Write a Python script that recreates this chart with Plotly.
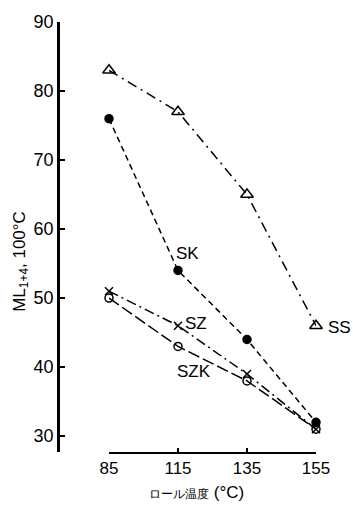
import plotly.graph_objects as go

temps = ["85", "115", "135", "155"]
ss = [83, 77, 65, 46]
sk = [76, 54, 44, 32]
sz = [51, 46, 39, 31]
szk = [50, 43, 38, 31]
y_ticks = [30, 40, 50, 60, 70, 80, 90]

FONT = "Liberation Sans"
fig = go.Figure()

def add(y, name, dash, symbol, size, width=1.5):
    fig.add_trace(go.Scatter(
        x=temps, y=y, name=name, mode="lines+markers", cliponaxis=False,
        line=dict(color="black", width=width, dash=dash),
        marker=dict(symbol=symbol, size=size, color="black",
                    line=dict(color="black", width=1.5)),
    ))

add(ss, "SS", "10px,5px,2px,5px", "triangle-up-open", 11)
add(sk, "SK", "6px,4px", "circle", 8)
add(sz, "SZ", "10px,4px,2px,4px", "x-thin-open", 8)
add(szk, "SZK", "12px,4px", "circle-open", 8)

# (label, category index, y value, anchor, x shift)
labels = [("SK", 1, 56.5, "left", -4), ("SZ", 1, 46.3, "left", 5),
          ("SZK", 1, 39.3, "center", 16), ("SS", 3, 45.8, "left", 10)]
for txt, xi, yv, anc, xs in labels:
    fig.add_annotation(x=xi, y=yv, xref="x", yref="y", text=txt, showarrow=False,
                       xanchor=anc, xshift=xs,
                       font=dict(size=17, family=FONT, color="black"))

fig.add_annotation(xref="paper", yref="paper", x=-0.195, y=(452 - 258) / 437,
                   text="ML<sub>1+4</sub>, 100°C", textangle=-90, showarrow=False,
                   font=dict(size=17, family=FONT, color="black"))
fig.add_annotation(xref="paper", yref="paper", x=(246 - 58) / 258, y=-0.094,
                   yanchor="middle",
                   text="<span style='font-size:12px'>ロール温度</span> (°C)",
                   showarrow=False, font=dict(size=17, family=FONT, color="black"))

fig.update_layout(
    width=353, height=510,
    margin=dict(l=58, r=37, t=15, b=58),
    paper_bgcolor="white", plot_bgcolor="white",
    showlegend=False,
    font=dict(family=FONT, size=16, color="black"),
    xaxis=dict(type="category", range=[0, 3], domain=[(109 - 58) / 258, 1],
               showline=True, linecolor="black", linewidth=2,
               ticks="inside", ticklen=4, tickcolor="black", tickwidth=1.5,
               showgrid=False, zeroline=False, tickfont=dict(size=17)),
    yaxis=dict(range=[27.7, 90], anchor="free", position=0,
               tickvals=y_ticks, showline=True, linecolor="black", linewidth=2.5,
               ticks="inside", ticklen=5, tickcolor="black", tickwidth=2,
               showgrid=False, zeroline=False, tickfont=dict(size=18)),
)

# remove the browser's default 8px page margin so the figure fills the window
fig.write_html("out.html", config={"displayModeBar": False},
               post_script="document.body.style.margin='0px';")
